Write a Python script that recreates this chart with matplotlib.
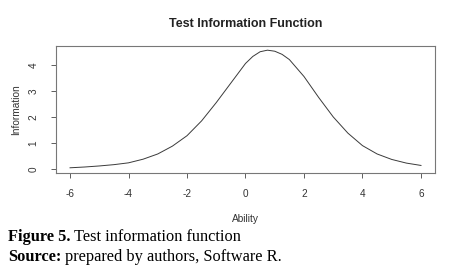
import matplotlib
matplotlib.use("Agg")
import matplotlib.pyplot as plt

# test information curve
ability = [-6, -5.5, -5, -4.5, -4, -3.5, -3, -2.5, -2, -1.5, -1, -0.5,
           0, 0.25, 0.5, 0.75, 1, 1.25, 1.5, 2, 2.5, 3, 3.5, 4, 4.5, 5, 5.5, 6]
information = [0.05, 0.08, 0.12, 0.17, 0.24, 0.38, 0.58, 0.88, 1.28, 1.85, 2.55, 3.3,
               4.05, 4.32, 4.5, 4.56, 4.52, 4.4, 4.2, 3.55, 2.75, 2.0, 1.38, 0.9, 0.58, 0.37, 0.23, 0.14]
x_ticks = [-6, -4, -2, 0, 2, 4, 6]
y_ticks = [0, 1, 2, 3, 4]

sans = "Liberation Sans"
serif = "Liberation Serif"

fig = plt.figure(figsize=(4.5, 2.73), dpi=100)
ax = fig.add_axes([0.1244, 0.3663, 0.8423, 0.4652])

ax.plot(ability, information, color="#3a3a3a", linewidth=0.7)
ax.set_xlim(-6.48, 6.48)
ax.set_ylim(-0.15, 4.72)

ax.set_xticks(x_ticks)
ax.set_yticks(y_ticks)
ax.set_xticklabels([str(t) for t in x_ticks], fontfamily=sans, fontsize=7.2, color="#333333")
ax.set_yticklabels([str(t) for t in y_ticks], fontfamily=sans, fontsize=7.2, color="#333333",
                   rotation=90, va="center")
ax.tick_params(direction="out", length=3.6, width=0.6, color="#444444")
ax.tick_params(axis="x", pad=8)
ax.tick_params(axis="y", pad=9)

for s in ax.spines.values():
    s.set_color("#777777")
    s.set_linewidth(0.8)

ax.set_title("Test Information Function", fontfamily=sans, fontsize=9,
             fontweight="bold", color="#222222", pad=14)
ax.set_xlabel("Ability", fontfamily=sans, fontsize=7.3, color="#333333", labelpad=11)
ax.set_ylabel("Information", fontfamily=sans, fontsize=7.3, color="#333333", labelpad=5)

# caption below the chart
fig.canvas.draw()
r = fig.canvas.get_renderer()
inv = fig.transFigure.inverted()

t1 = fig.text(8 / 450, 1 - 237 / 273, "Figure 5.", fontfamily=serif, fontsize=11.8,
              fontweight="bold", va="center", color="black")
w1 = inv.transform(t1.get_window_extent(r))
fig.text(w1[1][0] + 3 / 450, 1 - 237 / 273, "Test information function", fontfamily=serif,
         fontsize=11.8, va="center", color="black")

t2 = fig.text(8 / 450, 1 - 257 / 273, "Source:", fontfamily=serif, fontsize=11.8,
              fontweight="bold", va="center", color="black")
w2 = inv.transform(t2.get_window_extent(r))
fig.text(w2[1][0] + 4 / 450, 1 - 257 / 273, "prepared by authors, Software R.", fontfamily=serif,
         fontsize=11.8, va="center", color="black")

fig.savefig("out.png", dpi=100)
